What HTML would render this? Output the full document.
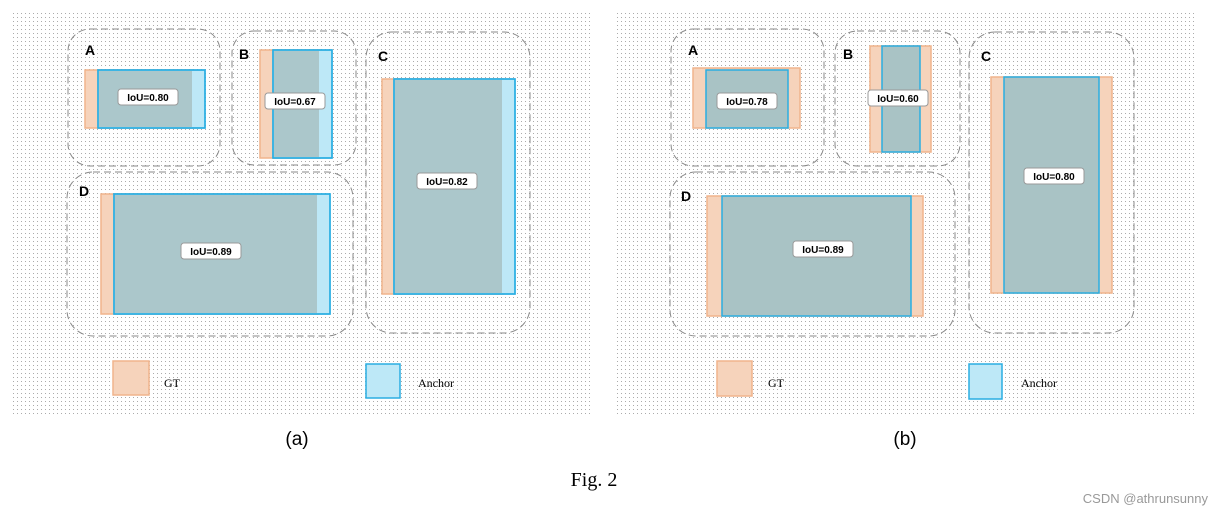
<!DOCTYPE html>
<html><head><meta charset="utf-8"><style>body{margin:0;background:#fff}svg{display:block}</style></head><body>
<svg width="1224" height="518" viewBox="0 0 1224 518" xmlns="http://www.w3.org/2000/svg">
<defs>
<pattern id="dots" width="4" height="4" patternUnits="userSpaceOnUse"><rect x="1" y="1" width="1" height="1" fill="#666"/></pattern>
<g id="lbl"><rect x="-30" y="-8" width="60" height="16" rx="3" fill="#fff" stroke="#999"/></g>
</defs>
<style>
.bg{fill:#f6f6f6}
.dash{fill:none;stroke:#888;stroke-width:1;stroke-dasharray:7,4}
.gt{fill:#f6d3bb;stroke:#f0b48c;stroke-width:1.5}
.an{fill:#bde8f7;stroke:#2aaee2;stroke-width:1.5}
.ov{fill:#a9c3c5}
.L{font:bold 14px "Liberation Sans",sans-serif;fill:#000}
.t{font:bold 10px "Liberation Sans",sans-serif;fill:#000;text-anchor:middle}
.s{font:12px "Liberation Serif",serif;fill:#000}
</style>
<!-- panel a -->
<rect x="13" y="12" width="578" height="402" fill="#fff"/>
<rect x="13" y="12" width="578" height="402" fill="url(#dots)" opacity="0.55"/>
<rect x="617" y="12" width="578" height="402" fill="#fff"/>
<rect x="617" y="12" width="578" height="402" fill="url(#dots)" opacity="0.55"/>

<!-- (a) -->
<rect class="dash" x="68" y="29" width="152" height="137" rx="22"/>
<rect class="dash" x="232" y="31" width="124" height="134" rx="22"/>
<rect class="dash" x="366" y="32" width="164" height="301" rx="26"/>
<rect class="dash" x="67" y="172" width="286" height="164" rx="26"/>
<text class="L" x="85" y="55">A</text><text class="L" x="239" y="59">B</text><text class="L" x="378" y="61">C</text><text class="L" x="79" y="196">D</text>
<!-- A -->
<rect class="gt" x="85" y="70" width="108" height="58"/><rect class="an" x="98" y="70" width="107" height="58"/>
<rect class="ov" x="99" y="71" width="93" height="56" opacity="0.9"/>
<rect x="98" y="70" width="107" height="58" fill="none" stroke="#2aaee2" stroke-width="1.5"/>
<!-- B -->
<rect class="gt" x="260" y="50" width="60" height="108"/><rect class="an" x="273" y="50" width="59" height="108"/>
<rect class="ov" x="274" y="51" width="45" height="106" opacity="0.9"/>
<rect x="273" y="50" width="59" height="108" fill="none" stroke="#2aaee2" stroke-width="1.5"/>
<!-- C -->
<rect class="gt" x="382" y="79" width="121" height="215"/><rect class="an" x="394" y="79" width="121" height="215"/>
<rect class="ov" x="395" y="80" width="107" height="213" opacity="0.9"/>
<rect x="394" y="79" width="121" height="215" fill="none" stroke="#2aaee2" stroke-width="1.5"/>
<!-- D -->
<rect class="gt" x="101" y="194" width="217" height="120"/><rect class="an" x="114" y="194" width="216" height="120"/>
<rect class="ov" x="115" y="195" width="202" height="118" opacity="0.9"/>
<rect x="114" y="194" width="216" height="120" fill="none" stroke="#2aaee2" stroke-width="1.5"/>
<rect x="113" y="361" width="36" height="34" class="gt"/><text class="s" x="164" y="387">GT</text>
<rect x="366" y="364" width="34" height="34" class="an"/><text class="s" x="418" y="387">Anchor</text>

<!-- (b) -->
<rect class="dash" x="671" y="29" width="153" height="137" rx="22"/>
<rect class="dash" x="835" y="31" width="125" height="135" rx="22"/>
<rect class="dash" x="969" y="32" width="165" height="301" rx="26"/>
<rect class="dash" x="670" y="172" width="285" height="164" rx="26"/>
<text class="L" x="688" y="55">A</text><text class="L" x="843" y="59">B</text><text class="L" x="981" y="61">C</text><text class="L" x="681" y="201">D</text>
<rect class="gt" x="693" y="68" width="107" height="60"/><rect class="ov" x="706" y="70" width="82" height="58"/><rect x="706" y="70" width="82" height="58" fill="none" stroke="#2aaee2" stroke-width="1.5"/>
<rect class="gt" x="870" y="46" width="61" height="106"/><rect class="ov" x="882" y="46" width="38" height="106"/><rect x="882" y="46" width="38" height="106" fill="none" stroke="#2aaee2" stroke-width="1.5"/>
<rect class="gt" x="991" y="77" width="121" height="216"/><rect class="ov" x="1004" y="77" width="95" height="216"/><rect x="1004" y="77" width="95" height="216" fill="none" stroke="#2aaee2" stroke-width="1.5"/>
<rect class="gt" x="707" y="196" width="216" height="120"/><rect class="ov" x="722" y="196" width="189" height="120"/><rect x="722" y="196" width="189" height="120" fill="none" stroke="#2aaee2" stroke-width="1.5"/>
<rect x="717" y="361" width="35" height="35" class="gt"/><text class="s" x="768" y="387">GT</text>
<rect x="969" y="364" width="33" height="35" class="an"/><text class="s" x="1021" y="387">Anchor</text>

<!-- labels -->
<use href="#lbl" x="148" y="97"/><text class="t" x="148" y="101">IoU=0.80</text>
<use href="#lbl" x="295" y="101"/><text class="t" x="295" y="105">IoU=0.67</text>
<use href="#lbl" x="447" y="181"/><text class="t" x="447" y="185">IoU=0.82</text>
<use href="#lbl" x="211" y="251"/><text class="t" x="211" y="255">IoU=0.89</text>
<use href="#lbl" x="747" y="101"/><text class="t" x="747" y="105">IoU=0.78</text>
<use href="#lbl" x="898" y="98"/><text class="t" x="898" y="102">IoU=0.60</text>
<use href="#lbl" x="1054" y="176"/><text class="t" x="1054" y="180">IoU=0.80</text>
<use href="#lbl" x="823" y="249"/><text class="t" x="823" y="253">IoU=0.89</text>

<text x="297" y="445" font-family="Liberation Sans,sans-serif" font-size="19" text-anchor="middle">(a)</text>
<text x="905" y="445" font-family="Liberation Sans,sans-serif" font-size="19" text-anchor="middle">(b)</text>
<text x="594" y="486" font-family="Liberation Serif,serif" font-size="20" text-anchor="middle">Fig. 2</text>
<text x="1208" y="503" font-family="Liberation Sans,sans-serif" font-size="13" fill="#999" text-anchor="end">CSDN @athrunsunny</text>
</svg>
</body></html>
